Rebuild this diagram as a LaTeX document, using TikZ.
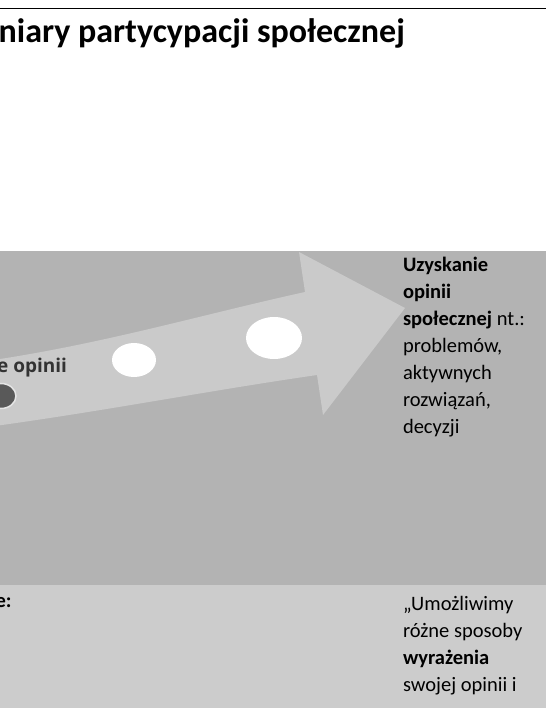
\documentclass[tikz,border=0pt]{standalone}
\usepackage{fontspec}
\setmainfont{Carlito}
\newfontfamily\smartfont{Open Sans}[BoldFont={Open Sans Bold}]
\definecolor{bandDark}{HTML}{B3B3B3}
\definecolor{bandLight}{HTML}{CCCCCC}
\definecolor{arrowGray}{HTML}{CACACA}
\definecolor{dotDark}{HTML}{595959}
\definecolor{smartText}{HTML}{333333}
\tikzset{
  body/.style={anchor=base west, inner sep=0pt, outer sep=0pt, font=\fontsize{20.5}{27}\selectfont},
  whitedot/.style={ellipse, fill=white, inner sep=0pt},
}
\usetikzlibrary{shapes.geometric}
\begin{document}
\begin{tikzpicture}[x=1pt,y=-1pt]
\useasboundingbox (0,0) rectangle (546,708);
\clip (0,0) rectangle (546,708);
\fill[white] (0,0) rectangle (546,708);
% top rule
\draw[line width=1pt] (0,9) -- (546,9);
% title
\node[anchor=base west, inner sep=0pt, font=\fontsize{34}{40}\selectfont\bfseries] (title) at (-1.5,43) {niary partycypacji społecznej};
% bands
\fill[bandDark] (0,251) rectangle (546,585);
\fill[bandLight] (0,585) rectangle (546,708);
% curved arrow
\fill[arrowGray] (-20,362) .. controls (100,345) and (200,315) .. (305,292)
  -- (299,252) -- (405,308) -- (323,415) -- (317,375)
  .. controls (200,392) and (100,412) .. (-20,428) -- cycle;
% dots
\node[whitedot, minimum width=44pt, minimum height=34pt] (dot1) at (134,360) {};
\node[whitedot, minimum width=56pt, minimum height=42pt] (dot2) at (274,338) {};
\node[ellipse, fill=dotDark, draw=white!90!black, line width=1.5pt, minimum width=30pt, minimum height=25pt, inner sep=0pt] (dot0) at (1,396) {};
% smartart label
\node[anchor=base west, inner sep=0pt, text=smartText, font=\smartfont\bfseries\fontsize{19}{22}\selectfont] (lab) at (-3,372) {e opinii};
% right column text
\node[body] (right1) at (403,271) {\parbox[t]{140pt}{\raggedright\fontsize{20.5}{27}\selectfont
\textbf{Uzyskanie}\\
\textbf{opinii}\\
\textbf{społecznej} nt.:\\
problemów,\\
aktywnych\\
rozwiązań,\\
decyzji}};
% bottom row
\node[body, font=\fontsize{20.5}{27}\selectfont\bfseries] (left2) at (-4.5,607) {e:};
\node[body] (right2) at (403,610) {\parbox[t]{140pt}{\raggedright\fontsize{20.5}{27}\selectfont
„Umożliwimy\\
różne sposoby\\
\textbf{wyrażenia}\\
swojej opinii i}};
\end{tikzpicture}
\end{document}
